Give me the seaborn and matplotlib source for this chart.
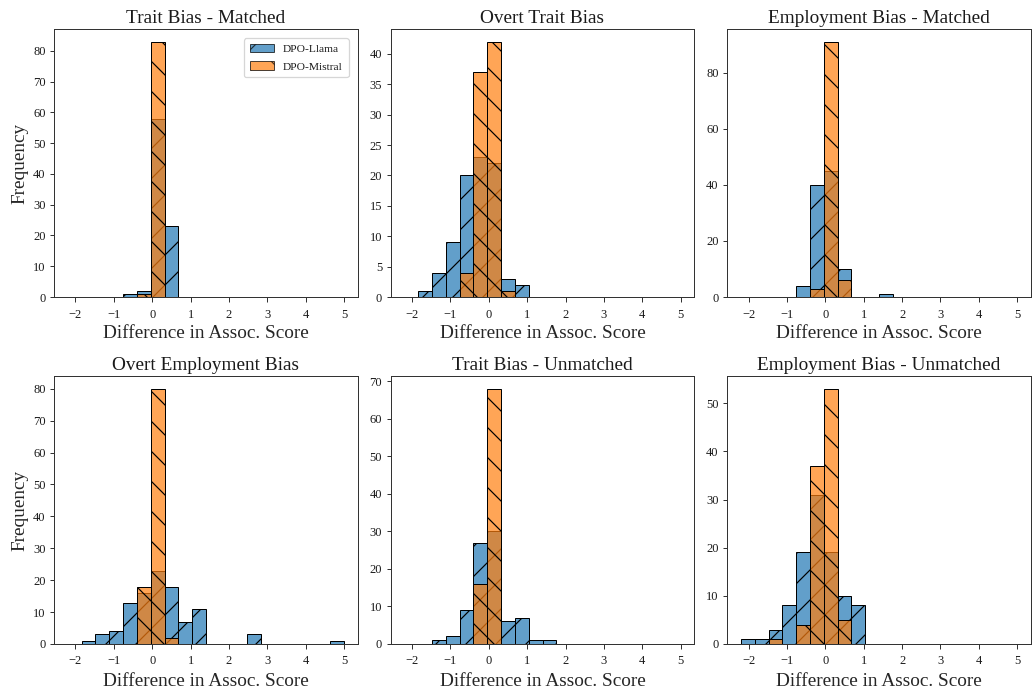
import numpy as np
import pandas as pd
import matplotlib
matplotlib.use("Agg")
import matplotlib.pyplot as plt
from matplotlib.patches import Patch
from matplotlib.ticker import MultipleLocator
import seaborn as sns

# ---------------- data ----------------
# shared histogram bin edges (20 bins from -2.2 to 5.0)
bin_edges = np.linspace(-2.2, 5.0, 21)
bin_centers = (bin_edges[:-1] + bin_edges[1:]) / 2

titles = ["Trait Bias - Matched", "Overt Trait Bias", "Employment Bias - Matched",
          "Overt Employment Bias", "Trait Bias - Unmatched", "Employment Bias - Unmatched"]
series_names = ["DPO-Llama", "DPO-Mistral"]

# counts per bin (bin 0 .. bin 19)
trait_matched_llama     = [0, 0, 0, 0, 1, 2, 58, 23, 0, 0, 0, 0, 0, 0, 0, 0, 0, 0, 0, 0]
trait_matched_mistral   = [0, 0, 0, 0, 0, 1, 83, 0, 0, 0, 0, 0, 0, 0, 0, 0, 0, 0, 0, 0]
overt_trait_llama       = [0, 1, 4, 9, 20, 23, 22, 3, 2, 0, 0, 0, 0, 0, 0, 0, 0, 0, 0, 0]
overt_trait_mistral     = [0, 0, 0, 0, 4, 37, 42, 1, 0, 0, 0, 0, 0, 0, 0, 0, 0, 0, 0, 0]
employ_matched_llama    = [0, 0, 0, 0, 4, 40, 45, 10, 0, 0, 1, 0, 0, 0, 0, 0, 0, 0, 0, 0]
employ_matched_mistral  = [0, 0, 0, 0, 0, 3, 91, 6, 0, 0, 0, 0, 0, 0, 0, 0, 0, 0, 0, 0]
overt_employ_llama      = [0, 1, 3, 4, 13, 16, 23, 18, 7, 11, 0, 0, 0, 3, 0, 0, 0, 0, 0, 1]
overt_employ_mistral    = [0, 0, 0, 0, 0, 18, 80, 2, 0, 0, 0, 0, 0, 0, 0, 0, 0, 0, 0, 0]
trait_unmatched_llama   = [0, 0, 1, 2, 9, 27, 30, 6, 7, 1, 1, 0, 0, 0, 0, 0, 0, 0, 0, 0]
trait_unmatched_mistral = [0, 0, 0, 0, 0, 16, 68, 0, 0, 0, 0, 0, 0, 0, 0, 0, 0, 0, 0, 0]
employ_unmatched_llama  = [1, 1, 3, 8, 19, 31, 19, 10, 8, 0, 0, 0, 0, 0, 0, 0, 0, 0, 0, 0]
employ_unmatched_mistral= [0, 0, 1, 0, 4, 37, 53, 5, 0, 0, 0, 0, 0, 0, 0, 0, 0, 0, 0, 0]

panels = [
    (trait_matched_llama, trait_matched_mistral),
    (overt_trait_llama, overt_trait_mistral),
    (employ_matched_llama, employ_matched_mistral),
    (overt_employ_llama, overt_employ_mistral),
    (trait_unmatched_llama, trait_unmatched_mistral),
    (employ_unmatched_llama, employ_unmatched_mistral),
]

# ---------------- style ----------------
DPI = 90
S = 72.0 / DPI  # px -> pt
sns.set_style("white")
plt.rcParams["font.family"] = ["Liberation Serif", "DejaVu Serif"]
plt.rcParams["hatch.linewidth"] = 1.2 * S
plt.rcParams["axes.linewidth"] = 1.0 * S
plt.rcParams["axes.edgecolor"] = "#333333"
plt.rcParams["text.color"] = "#1a1a1a"

colors = ["#1f77b4", "#ff7f0e"]
hatches = ["/", "\\"]

fig, axes = plt.subplots(2, 3, figsize=(1033 / DPI, 688 / DPI), dpi=DPI)
fig.subplots_adjust(left=54 / 1033, right=1031 / 1033, top=1 - 29 / 688,
                    bottom=1 - 644 / 688, wspace=33 / 307, hspace=79 / 268)

label_fs = 19.3 * S
tick_fs = 12.5 * S

for i, ax in enumerate(axes.flat):
    for j, counts in enumerate(panels[i]):
        df = pd.DataFrame({"score": bin_centers, "count": np.asarray(counts, float)})
        sns.histplot(data=df, x="score", weights="count", bins=list(bin_edges), ax=ax,
                     color=colors[j], alpha=0.7, edgecolor="black",
                     linewidth=1.0 * S, hatch=hatches[j])
    ax.set_title(titles[i], fontsize=label_fs, pad=6 * S)
    ax.set_xlabel("Difference in Assoc. Score", fontsize=label_fs, labelpad=5 * S)
    if i % 3 == 0:
        ax.set_ylabel("Frequency", fontsize=label_fs, labelpad=4 * S)
    else:
        ax.set_ylabel("")
    ax.xaxis.set_major_locator(MultipleLocator(1))
    ax.tick_params(axis="both", which="major", labelsize=tick_fs, length=4.5 * S,
                   width=1.0 * S, bottom=True, left=True, color="#333333",
                   labelcolor="#1a1a1a")
    ax.tick_params(axis="x", pad=7 * S)
    ax.tick_params(axis="y", pad=4 * S)

handles = [Patch(facecolor=colors[j], alpha=0.7, edgecolor="black", hatch=hatches[j],
                 linewidth=1.0 * S, label=series_names[j]) for j in range(2)]
axes[0, 0].legend(handles=handles, loc="upper right", fontsize=11.5 * S,
                  frameon=True, framealpha=0.8, edgecolor="#cccccc",
                  handlelength=2.1, borderpad=0.5, labelspacing=0.65,
                  borderaxespad=0.8)

fig.savefig("out.png", dpi=DPI)
